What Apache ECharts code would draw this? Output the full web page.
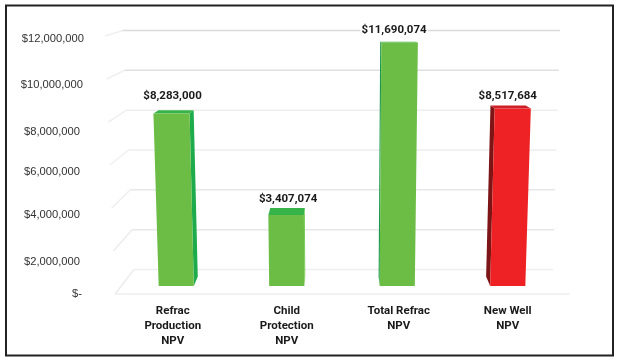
<!DOCTYPE html>
<html>
<head>
<meta charset="utf-8">
<style>html,body{margin:0;padding:0;background:#fff}#c{width:620px;height:363px}</style>
<script src="https://cdn.jsdelivr.net/npm/echarts@6/dist/echarts.min.js"></script>
</head>
<body>
<div id="c"></div>
<script>
const categories = ['Refrac\nProduction\nNPV', 'Child\nProtection\nNPV', 'Total Refrac\nNPV', 'New Well\nNPV'];
const npvValues = [8283000, 3407074, 11690074, 8517684];
const axisTicks = [0, 2000000, 4000000, 6000000, 8000000, 10000000, 12000000];
const tickLabels = ['$-', '$2,000,000', '$4,000,000', '$6,000,000', '$8,000,000', '$10,000,000', '$12,000,000'];

// Styling only
const faceColors = ['#6CBD45', '#6CBD45', '#6CBD45', '#EE2224'];
const sideColors = ['#1DAB4B', '#7CCB5A', '#1A9850', '#7D1416'];
const topColors = ['#36B44A', '#36B44A', '#36B44A', '#CC1F27'];
const gridColors = ['#eeeeee', '#e8e8e8', '#e8e8e8', '#eeeeee', '#eeeeee', '#dfdfdf', '#dadada'];
const sideLineColors = ['#ececec', '#ececec', '#eeeeee', '#f0f0f0', '#f0f0f0', '#f0f0f0', '#f0f0f0'];
const labelNudge = [[1, -14.5], [2, -8.5], [-5.5, -12], [-5, -9]];
const catNudge = [[0, 7], [0, 0], [3, 0], [0, 0]];
const tickNudge = [[0, 2], [11, 4], [7, 4], [7, 4], [10, 4], [6, 1], [3, 0]];

const VANISH_X = 340;
const persp = (x, m) => VANISH_X + (x - VANISH_X) * (1 + 0.0035 * m);
const depthX = x => (VANISH_X - x) * 0.027;
const depthY = m => -(9.5 - 0.75 * m);

function renderBar(params, api) {
  const i = api.value(0), v = api.value(1), m = v / 1e6;
  const cx = api.coord([i, 0])[0];
  const w = api.size([1, 0])[0] * 0.318;
  const y0 = api.coord([i, 0])[1], y1 = api.coord([i, v])[1];
  const fl = [persp(cx - w / 2, 0), y0], fr = [persp(cx + w / 2, 0), y0];
  const tl = [persp(cx - w / 2, m), y1], tr = [persp(cx + w / 2, m), y1];
  const back = (p, mm) => [p[0] + depthX(p[0]), p[1] + depthY(mm)];
  const useRight = cx < VANISH_X;
  const tb = useRight ? tr : tl, bb = useRight ? fr : fl;
  const n = labelNudge[i];
  const topY = y1 + depthY(m);
  return {
    type: 'group',
    children: [
      { type: 'polygon', shape: { points: [tb, back(tb, m), back(bb, 0), bb] }, style: { fill: sideColors[i] } },
      { type: 'polygon', shape: { points: [tl, back(tl, m), back(tr, m), tr] }, style: { fill: topColors[i] } },
      { type: 'polygon', shape: { points: [fl, tl, tr, fr] }, style: { fill: faceColors[i] } },
      { type: 'text', z2: 20, style: {
          text: '$' + v.toLocaleString('en-US'),
          x: persp(cx, m) + n[0], y: topY + n[1],
          align: 'center', verticalAlign: 'middle',
          font: 'bold 11.5px Roboto', fill: '#1a1a1a',
          backgroundColor: '#fff', padding: [0, 1]
      } }
    ]
  };
}

function renderGridLine(params, api) {
  const v = api.value(1), m = v / 1e6, idx = params.dataIndex;
  const sys = params.coordSys;
  const y = api.coord([0, v])[1];
  const x0 = sys.x;
  const backY = y - (24.5 - 1.58 * m);
  const leftX = x0 + 19 - 0.92 * m;
  const kids = [
    { type: 'line', shape: { x1: x0 - 0.83 * m, y1: y, x2: leftX, y2: backY }, style: { stroke: sideLineColors[idx], lineWidth: 1.5 } },
    { type: 'line', shape: { x1: leftX, y1: backY, x2: x0 + 438 + 0.58 * m, y2: backY }, style: { stroke: gridColors[idx], lineWidth: 1.5 } }
  ];
  if (v === 0) {
    kids.push({ type: 'line', shape: { x1: x0, y1: y, x2: x0 + sys.width, y2: y }, style: { stroke: gridColors[idx], lineWidth: 1.5 } });
  }
  return { type: 'group', children: kids };
}

const tickRich = {};
tickNudge.forEach((t, i) => {
  tickRich['t' + i] = { padding: [t[0] * 2, t[1], 0, 0], fontFamily: 'Liberation Sans', fontSize: 11.2, color: '#333' };
});
const catRich = {};
catNudge.forEach((t, i) => {
  catRich['c' + i] = { padding: [0, t[1], 0, t[0]], fontFamily: 'Roboto', fontWeight: 'bold', fontSize: 11.5, color: '#1a1a1a', lineHeight: 15 };
});

const chart = echarts.init(document.getElementById('c'), null, { renderer: 'canvas' });
chart.setOption({
  animation: false,
  backgroundColor: '#fff',
  graphic: [{
    type: 'rect', z: -10,
    shape: { x: 6, y: 5.5, width: 607, height: 350 },
    style: { fill: '#fff', stroke: '#222', lineWidth: 2 }
  }],
  grid: [
    { left: 121, width: 442, top: 36, bottom: 77 },
    { left: 115, width: 455, top: 36, bottom: 69 }
  ],
  xAxis: [
    { type: 'category', gridIndex: 0, data: categories,
      axisLine: { show: false }, axisTick: { show: false }, splitLine: { show: false },
      axisLabel: { margin: 18, interval: 0,
        formatter: (val, i) => val.split('\n').map(s => '{c' + i + '|' + s + '}').join('\n'),
        rich: catRich } },
    { type: 'value', gridIndex: 1, min: 0, max: 1, show: false }
  ],
  yAxis: [
    { type: 'value', gridIndex: 0, min: 0, max: 12000000, interval: 2000000, show: false },
    { type: 'value', gridIndex: 1, min: 0, max: 12000000, interval: 2000000,
      axisLine: { show: false }, axisTick: { show: false }, splitLine: { show: false },
      axisLabel: { margin: 31, align: 'right',
        formatter: v => { const i = axisTicks.indexOf(v); return '{t' + i + '|' + tickLabels[i] + '}'; },
        rich: tickRich } }
  ],
  series: [
    { type: 'custom', xAxisIndex: 1, yAxisIndex: 1, z: 1, silent: true,
      renderItem: renderGridLine, data: axisTicks.map(v => [0, v]), encode: { x: 0, y: 1 } },
    { type: 'custom', xAxisIndex: 0, yAxisIndex: 0, z: 5, silent: true,
      renderItem: renderBar, data: npvValues.map((v, i) => [i, v]), encode: { x: 0, y: 1 } }
  ]
});
</script>
</body>
</html>
